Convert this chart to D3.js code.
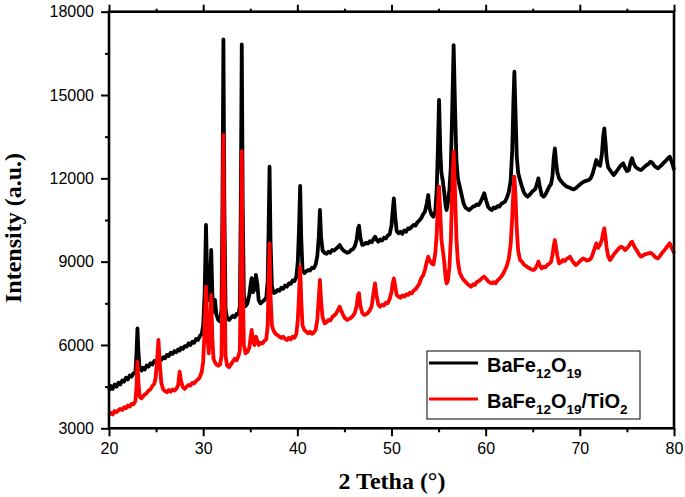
<!DOCTYPE html>
<html><head><meta charset="utf-8">
<script src="https://cdn.jsdelivr.net/npm/d3@7"></script>
<style>body{margin:0;background:#fff}svg{display:block}</style>
</head><body>
<svg id="chart" width="685" height="497"></svg>
<script>
// 2θ positions (degrees)
const twoTheta = [
20.0,20.2,20.4,20.6,20.8,21.0,21.2,21.4,21.6,21.8,
22.0,22.2,22.4,22.6,22.8,22.92,23.02,23.12,23.25,23.45,
23.6,23.8,24.0,24.2,24.4,24.6,24.8,24.95,25.12,25.25,
25.38,25.55,25.75,25.95,26.15,26.35,26.55,26.75,26.95,27.15,
27.35,27.5,27.65,27.85,28.05,28.25,28.45,28.65,28.85,29.05,
29.25,29.45,29.65,29.85,30.0,30.15,30.3,30.45,30.6,30.72,
30.85,30.98,31.1,31.25,31.4,31.6,31.8,31.95,32.05,32.15,
32.25,32.38,32.55,32.75,32.95,33.15,33.35,33.55,33.75,33.9,
34.0,34.1,34.2,34.32,34.5,34.7,34.9,35.05,35.15,35.3,
35.45,35.6,35.75,35.9,36.1,36.3,36.5,36.7,36.85,36.95,
37.05,37.15,37.3,37.5,37.7,37.9,38.1,38.3,38.5,38.7,
38.9,39.1,39.3,39.5,39.7,39.9,40.05,40.18,40.3,40.42,
40.55,40.75,40.95,41.15,41.35,41.55,41.75,41.95,42.12,42.28,
42.4,42.52,42.68,42.9,43.1,43.3,43.5,43.7,43.9,44.1,
44.3,44.5,44.7,44.9,45.1,45.3,45.5,45.7,45.9,46.1,
46.3,46.45,46.55,46.7,46.9,47.1,47.3,47.5,47.7,47.9,
48.1,48.25,48.4,48.6,48.8,49.0,49.2,49.4,49.6,49.8,
50.0,50.12,50.25,50.4,50.55,50.75,50.95,51.15,51.35,51.55,
51.75,51.95,52.15,52.35,52.55,52.75,52.95,53.15,53.35,53.55,
53.75,53.9,54.05,54.25,54.45,54.65,54.8,54.92,55.05,55.18,
55.3,55.45,55.6,55.75,55.85,55.98,56.15,56.3,56.45,56.6,
56.75,56.9,57.05,57.25,57.45,57.65,57.85,58.05,58.25,58.45,
58.65,58.85,59.05,59.25,59.45,59.65,59.85,60.05,60.25,60.45,
60.65,60.85,61.05,61.25,61.45,61.65,61.85,62.05,62.25,62.45,
62.65,62.82,62.95,63.05,63.15,63.3,63.45,63.65,63.85,64.05,
64.25,64.45,64.65,64.85,65.05,65.25,65.45,65.6,65.75,65.95,
66.15,66.35,66.55,66.75,66.95,67.1,67.22,67.35,67.48,67.62,
67.8,68.0,68.2,68.4,68.6,68.8,68.95,69.15,69.35,69.55,
69.75,69.95,70.15,70.35,70.55,70.75,70.95,71.15,71.35,71.55,
71.75,71.95,72.15,72.35,72.48,72.6,72.72,72.85,73.0,73.2,
73.4,73.6,73.8,74.0,74.2,74.4,74.6,74.8,75.0,75.2,
75.4,75.55,75.7,75.9,76.1,76.3,76.5,76.7,76.9,77.1,
77.3,77.5,77.7,77.9,78.1,78.3,78.5,78.7,78.9,79.1,
79.3,79.55,79.75,79.9,80.0
];
// BaFe12O19 intensity (a.u.)
const intensityBaFe = [
4350,4520,4420,4580,4500,4640,4580,4720,4680,4820,
4760,4900,4860,4980,5000,5700,6600,5800,5150,5080,
5180,5120,5260,5220,5340,5300,5420,5380,5460,5420,
5500,5460,5560,5520,5640,5600,5720,5680,5780,5740,
5840,5800,5900,5860,5960,5940,6060,6000,6120,6080,
6220,6180,6320,6400,6700,7800,10320,7900,7600,8100,
9420,7800,7200,7620,7100,6900,6850,7300,11000,17000,
11000,7300,6950,6900,6980,7050,7000,7120,7100,7400,
11200,16820,11000,7800,7400,7500,7800,8200,8410,7900,
8000,8520,8200,7600,7500,7560,7620,7700,8300,10200,
12420,9800,8100,7870,7900,7980,7950,8060,8020,8140,
8100,8220,8200,8320,8300,8460,9000,10200,11730,9800,
8700,8590,8650,8700,8680,8780,8770,8900,9200,9900,
10860,9900,9400,9310,9280,9360,9320,9420,9400,9460,
9520,9600,9480,9400,9360,9320,9340,9420,9450,9550,
9800,10200,10290,9850,9600,9620,9680,9650,9740,9700,
9820,9900,9800,9720,9800,9760,9860,9840,9940,9980,
10300,10800,11280,10600,10100,10020,10080,10000,10120,10080,
10200,10180,10260,10320,10300,10420,10480,10560,10700,10800,
11100,11400,10900,10700,10620,10800,11600,13000,14820,13000,
12200,11900,11500,11000,10860,11100,11600,12400,14500,16800,
14500,12600,12000,11700,11400,11100,10950,10900,10860,10920,
10980,11000,11060,11040,11150,11300,11460,11200,10980,10900,
10860,10950,10920,11000,10980,11080,11120,11160,11300,11500,
11900,13000,14800,15840,14600,12800,12200,11940,11700,11500,
11400,11340,11400,11480,11560,11600,11800,12000,11700,11400,
11340,11420,11560,11700,11800,12100,12700,13080,12600,12200,
12000,11900,11820,11760,11700,11680,11660,11620,11600,11640,
11700,11760,11820,11860,11900,11920,11940,12000,12160,12400,
12660,12500,12450,12900,13500,13800,13300,12700,12400,12300,
12200,12120,12200,12300,12400,12480,12540,12380,12260,12300,
12600,12720,12550,12420,12360,12320,12300,12360,12420,12480,
12520,12600,12560,12460,12400,12360,12420,12480,12560,12620,
12700,12780,12600,12450,12300
];
// BaFe12O19/TiO2 intensity (a.u.)
const intensityBaFeTiO2 = [
3480,3560,3500,3620,3580,3650,3700,3660,3760,3720,
3820,3780,3880,3860,3980,4500,5400,4700,4150,4080,
4140,4220,4260,4360,4400,4520,4600,4800,5500,6180,
5400,4650,4400,4340,4300,4380,4320,4400,4360,4420,
4560,5040,4700,4480,4420,4500,4560,4540,4640,4620,
4700,4760,4840,5040,5400,6500,8100,6300,5700,6600,
7800,6200,5500,5380,5300,5250,5300,5600,9000,13560,
8800,5600,5250,5200,5300,5400,5500,5450,5600,5800,
8600,12980,8400,6000,5700,5750,5900,6300,6540,6100,
6000,6300,6150,6000,6080,6060,6150,6200,6700,8200,
9660,7800,6700,6500,6400,6350,6300,6250,6300,6220,
6180,6260,6200,6300,6260,6400,6900,7800,8820,7600,
6700,6540,6480,6420,6480,6400,6450,6550,6900,7700,
8340,7600,7000,6780,6820,6900,6880,7000,7060,7120,
7250,7380,7200,7050,6950,6900,6940,6980,7050,7150,
7400,7800,7860,7400,7150,7080,7100,7160,7250,7400,
7900,8220,7800,7450,7380,7450,7420,7520,7500,7650,
7900,8200,8400,8100,7800,7740,7700,7780,7740,7820,
7800,7880,7860,7960,8000,8100,8200,8400,8500,8700,
9000,9180,9050,8940,8900,9300,10000,11000,11700,10800,
9800,9400,9000,8400,8220,8300,8800,9800,11600,12960,
11500,9800,9000,8600,8460,8350,8280,8200,8150,8100,
8180,8160,8260,8300,8350,8420,8460,8380,8300,8250,
8220,8260,8220,8320,8380,8460,8560,8700,8850,9100,
9600,10600,11600,12060,11500,10200,9400,9060,9000,8900,
8850,8800,8760,8720,8700,8740,8860,9000,8860,8760,
8820,8800,8880,8920,9000,9250,9550,9780,9500,9200,
8940,8980,9060,9020,9100,9140,9180,9060,8960,8880,
8920,9000,9060,9120,9080,9040,9060,9100,9250,9450,
9660,9500,9600,9800,10050,10200,9900,9500,9200,9060,
9150,9260,9340,9420,9500,9540,9500,9420,9480,9560,
9680,9720,9600,9480,9380,9260,9180,9220,9260,9280,
9300,9320,9280,9200,9140,9120,9200,9300,9380,9460,
9560,9660,9500,9400,9300
];
const seriesNames = ["BaFe12O19", "BaFe12O19/TiO2"];
const seriesColors = ["#000000", "#ff0000"];
const xMajorTicks = [20, 30, 40, 50, 60, 70, 80];
const xMinorTicks = [25, 35, 45, 55, 65, 75];
const yMajorTicks = [3000, 6000, 9000, 12000, 15000, 18000];
const yMinorTicks = [4500, 7500, 10500, 13500, 16500];
const xTitle = "2 Tetha (°)";
const yTitle = "Intensity (a.u.)";

const svg = d3.select("#chart");
const L = 109, R = 674, T = 11.7, B = 428.3;
const x = d3.scaleLinear().domain([20, 80]).range([L, R]);
const y = d3.scaleLinear().domain([3000, 18000]).range([B, T]);
const tickFont = "'Liberation Sans', Arial, sans-serif";

function styleAxis(g) {
  g.select(".domain").remove();
  g.selectAll("line").attr("stroke", "#000").attr("stroke-width", 2);
  g.selectAll("text").attr("font-family", tickFont).attr("font-size", 16).attr("fill", "#000");
}
svg.append("g").attr("transform", `translate(0,${B})`)
  .call(d3.axisBottom(x).tickValues(xMajorTicks).tickSize(8).tickPadding(6).tickFormat(d3.format("d")))
  .call(styleAxis);
svg.append("g").attr("transform", `translate(0,${B})`)
  .call(d3.axisBottom(x).tickValues(xMinorTicks).tickSize(4).tickFormat(""))
  .call(styleAxis);
svg.append("g").attr("transform", `translate(0,${T})`)
  .call(d3.axisTop(x).tickValues(xMajorTicks).tickSize(7).tickFormat(""))
  .call(styleAxis);
svg.append("g").attr("transform", `translate(0,${T})`)
  .call(d3.axisTop(x).tickValues(xMinorTicks).tickSize(3).tickFormat(""))
  .call(styleAxis);
svg.append("g").attr("transform", `translate(${L},0)`)
  .call(d3.axisLeft(y).tickValues(yMajorTicks).tickSize(8).tickPadding(7).tickFormat(d3.format("d")))
  .call(styleAxis);
svg.append("g").attr("transform", `translate(${L},0)`)
  .call(d3.axisLeft(y).tickValues(yMinorTicks).tickSize(4).tickFormat(""))
  .call(styleAxis);

const series = [intensityBaFe, intensityBaFeTiO2];
const line = d3.line().x(d => x(d[0])).y(d => y(d[1]));
series.forEach((vals, i) => {
  svg.append("path")
    .datum(twoTheta.map((t, j) => [t, vals[j]]))
    .attr("fill", "none")
    .attr("stroke", seriesColors[i])
    .attr("stroke-width", 3.8)
    .attr("stroke-linejoin", "round")
    .attr("d", line);
});

svg.append("rect").attr("x", L).attr("y", T).attr("width", R - L).attr("height", B - T)
  .attr("fill", "none").attr("stroke", "#000").attr("stroke-width", 2.6);

const lg = svg.append("g");
lg.append("rect").attr("x", 427).attr("y", 351).attr("width", 213).attr("height", 68)
  .attr("fill", "#fff").attr("stroke", "#000").attr("stroke-width", 1);
const legendRows = [363, 399];
legendRows.forEach((ly, i) => {
  lg.append("line").attr("x1", 429).attr("x2", 478).attr("y1", ly).attr("y2", ly)
    .attr("stroke", seriesColors[i]).attr("stroke-width", 3);
  const t = lg.append("text").attr("x", 487).attr("y", ly + 8.5)
    .attr("font-family", tickFont).attr("font-weight", "bold").attr("font-size", 20).attr("fill", "#000");
  const parts = seriesNames[i].match(/[A-Za-z\/]+|\d+/g);
  let sub = false;
  parts.forEach(p => {
    const isNum = /^\d+$/.test(p);
    const ts = t.append("tspan").text(p);
    if (isNum && !sub) { ts.attr("dy", 6).attr("font-size", 13.5); sub = true; }
    else if (isNum && sub) { ts.attr("font-size", 13.5); }
    else if (!isNum && sub) { ts.attr("dy", -6); sub = false; }
  });
});

svg.append("text").attr("x", 392).attr("y", 489).attr("text-anchor", "middle")
  .attr("font-family", "'Liberation Serif', 'Times New Roman', serif").attr("font-weight", "bold")
  .attr("font-size", 24).text(xTitle);
svg.append("text").attr("transform", "translate(21,228) rotate(-90)").attr("text-anchor", "middle")
  .attr("font-family", "'Liberation Serif', 'Times New Roman', serif").attr("font-weight", "bold")
  .attr("font-size", 24).text(yTitle);
</script>
</body></html>
